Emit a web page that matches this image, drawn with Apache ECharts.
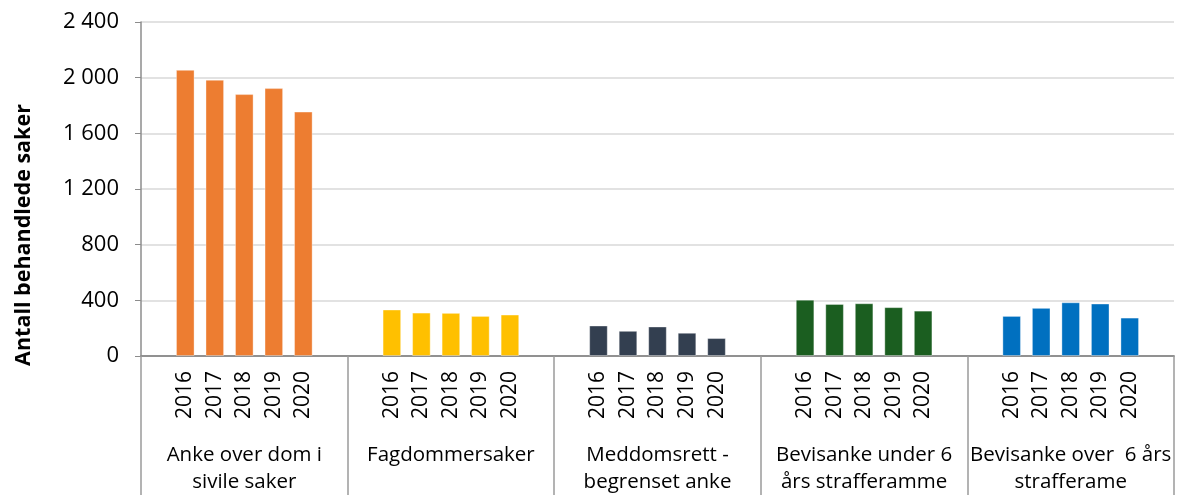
<!DOCTYPE html>
<html>
<head>
<meta charset="utf-8">
<script src="https://cdn.jsdelivr.net/npm/echarts@6/dist/echarts.min.js"></script>
<style>
  html, body { margin: 0; padding: 0; background: #fff; }
  #chart { width: 1181px; height: 496px; }
</style>
</head>
<body>
<div id="chart"></div>
<script>
// saksgrupper (nedre nivå på x-aksen)
const groups = [
  'Anke over dom i\nsivile saker',
  'Fagdommersaker',
  'Meddomsrett -\nbegrenset anke',
  'Bevisanke under 6\nårs strafferamme',
  'Bevisanke over  6 års\nstrafferame'
];
const years = ['2016', '2017', '2018', '2019', '2020'];
const yTicks = [0, 400, 800, 1200, 1600, 2000, 2400];

// antall behandlede saker per år
const sivile = [2056, 1985, 1882, 1925, 1756];
const fagdommer = [334, 312, 310, 288, 298];
const meddomsrett = [219, 181, 212, 167, 129];
const bevisUnder6 = [405, 374, 379, 351, 326];
const bevisOver6 = [288, 346, 386, 377, 276];

const values = [sivile, fagdommer, meddomsrett, bevisUnder6, bevisOver6];
const colors = ['#ED7D31', '#FFC000', '#333F50', '#1B5E20', '#0070C0'];

// hver gruppe: tom plass, 5 år, tom plass
const cats = [];
const barData = [];
groups.forEach((g, gi) => {
  cats.push('');
  barData.push('-');
  years.forEach((y, yi) => {
    cats.push(y);
    barData.push({
      value: values[gi][yi],
      itemStyle: { color: colors[gi] }
    });
  });
  cats.push('');
  barData.push('-');
});

const font = 'Open Sans';
const chart = echarts.init(document.getElementById('chart'));

chart.setOption({
  animation: false,
  textStyle: { fontFamily: font },
  grid: { left: 141, right: 7, top: 22, bottom: 139, containLabel: false },
  xAxis: [
    {
      type: 'category',
      data: cats,
      axisLine: { lineStyle: { color: '#8c8c8c', width: 1.5 } },
      axisTick: { show: false },
      axisLabel: {
        interval: 0,
        rotate: 90,
        margin: 15,
        fontSize: 21,
        color: '#000',
        fontFamily: font
      }
    },
    {
      type: 'category',
      data: groups,
      position: 'bottom',
      axisLine: { lineStyle: { color: '#8c8c8c', width: 1.5 } },
      axisTick: { show: true, length: 139, lineStyle: { color: '#9a9a9a', width: 1.5 } },
      axisLabel: {
        interval: 0,
        margin: 86,
        fontSize: 20.5,
        lineHeight: 27,
        verticalAlign: 'top',
        color: '#000',
        fontFamily: font
      }
    }
  ],
  yAxis: {
    type: 'value',
    min: yTicks[0],
    max: yTicks[yTicks.length - 1],
    interval: 400,
    axisLine: { show: true, lineStyle: { color: '#8c8c8c', width: 1.5 } },
    axisTick: { show: true, length: 6, lineStyle: { color: '#8c8c8c' } },
    splitLine: { lineStyle: { color: '#d9d9d9', width: 1.5 } },
    axisLabel: {
      margin: 22,
      fontSize: 22,
      color: '#000',
      fontFamily: font,
      formatter: v => String(v).replace(/\B(?=(\d{3})+(?!\d))/g, ' ')
    }
  },
  graphic: [{
    type: 'text',
    rotation: Math.PI / 2,
    x: 24,
    y: 235,
    style: {
      text: 'Antall behandlede saker',
      font: 'bold 21.5px "Open Sans"',
      fill: '#000',
      align: 'center',
      verticalAlign: 'middle'
    }
  }],
  series: [{
    type: 'bar',
    data: barData,
    barWidth: '63%',
    itemStyle: { borderColor: 'rgba(255,255,255,0.35)', borderWidth: 1 }
  }]
});
</script>
</body>
</html>
